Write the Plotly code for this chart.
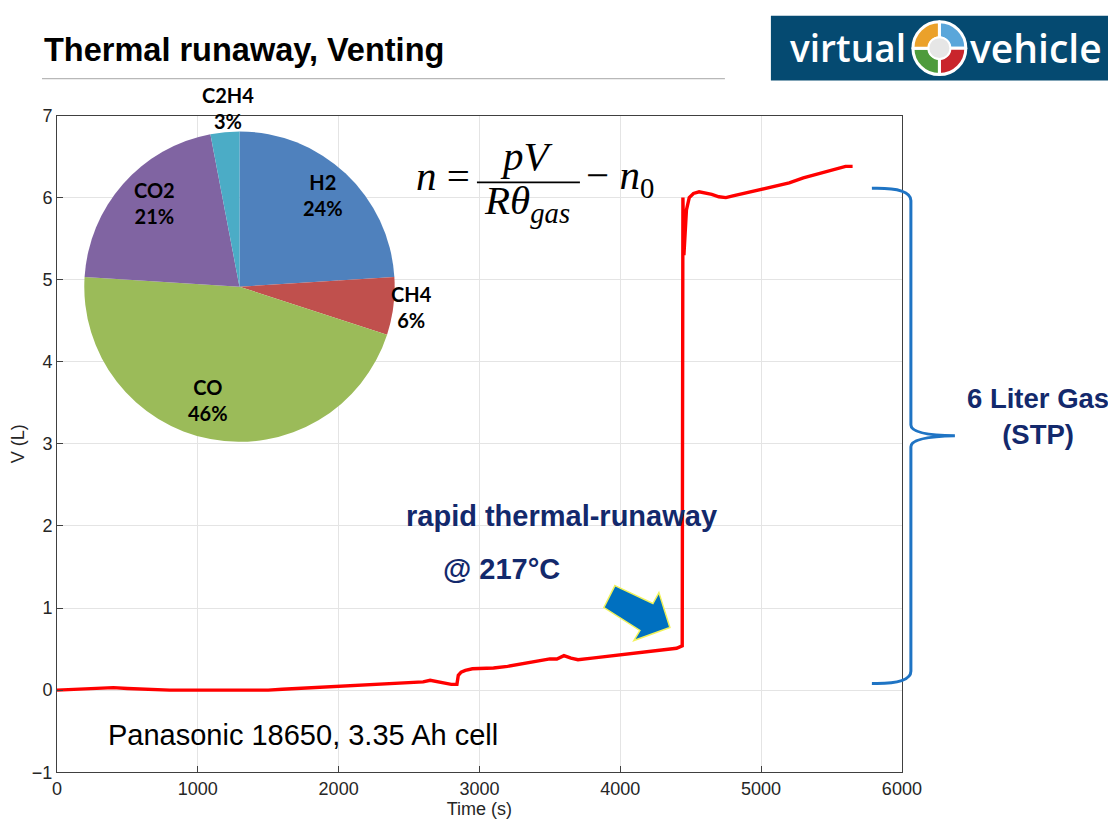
import plotly.graph_objects as go

# The page is photographed with a small offset and scale; map reference pixels into figure pixels.
OX, OY, SC = 13.0, 16.3, 0.978
FW, FH = 1130, 836

# ---------------- data ----------------
time_s = [0, 100, 200, 300, 400, 500, 600, 700, 800, 900, 1000, 1100, 1200, 1300, 1400,
          1500, 1600, 1700, 1800, 1900, 2000, 2100, 2200, 2300, 2400, 2500, 2600, 2650,
          2700, 2750, 2800, 2840, 2850, 2870, 2900, 2950, 3000, 3100, 3200, 3300, 3400,
          3500, 3550, 3600, 3650, 3700, 3800, 3900, 4000, 4100, 4200, 4300, 4400, 4440,
          4445, 4452, 4460, 4470, 4490, 4520, 4560, 4600, 4650, 4700, 4750, 4800, 4850,
          4900, 5000, 5100, 5200, 5300, 5400, 5500, 5600, 5650]
volume_l = [0.00, 0.01, 0.02, 0.03, 0.03, 0.02, 0.01, 0.01, 0.00, 0.00, 0.00, -0.01, -0.01,
            -0.01, 0.00, 0.00, 0.01, 0.02, 0.03, 0.04, 0.05, 0.05, 0.06, 0.07, 0.08, 0.09,
            0.10, 0.12, 0.10, 0.08, 0.07, 0.07, 0.18, 0.22, 0.24, 0.26, 0.26, 0.27, 0.29,
            0.32, 0.35, 0.38, 0.38, 0.42, 0.39, 0.37, 0.39, 0.41, 0.43, 0.44, 0.46, 0.48,
            0.51, 0.54, 6.00, 5.30, 5.60, 5.85, 6.00, 6.05, 6.07, 6.06, 6.04, 6.01, 6.00,
            6.02, 6.04, 6.06, 6.10, 6.14, 6.18, 6.24, 6.29, 6.34, 6.38, 6.38]

gas_names = ["H2", "CH4", "CO", "CO2", "C2H4"]
gas_share = [24, 6, 46, 21, 3]
gas_colors = ["#4F81BD", "#C0504D", "#9BBB59", "#8064A2", "#4BACC6"]

x_ticks = [0, 1000, 2000, 3000, 4000, 5000, 6000]
y_ticks = [-1, 0, 1, 2, 3, 4, 5, 6, 7]


def px(x):
    return ((x - OX) / SC) / FW


def py(y):
    return 1 - ((y - OY) / SC) / FH


fig = go.Figure()

fig.add_trace(go.Scatter(
    x=time_s, y=volume_l, mode="lines",
    line=dict(color="#FF0000", width=3.4),
    showlegend=False, hoverinfo="x+y"))

# gas composition pie
fig.add_trace(go.Pie(
    labels=gas_names, values=gas_share, sort=False, direction="clockwise", rotation=0,
    marker=dict(colors=gas_colors, line=dict(color="white", width=0)),
    textinfo="none", showlegend=False,
    domain=dict(x=[px(84), px(395)], y=[py(441), py(130)])))

# logo ring
fig.add_trace(go.Pie(
    values=[1, 1, 1, 1], sort=False, direction="clockwise", rotation=0,
    marker=dict(colors=["#5AA6DA", "#C9252C", "#4E9B3C", "#EBA12A"],
                line=dict(color="white", width=3)),
    textinfo="none", showlegend=False, hoverinfo="skip", hole=0.38,
    domain=dict(x=[px(913), px(966)], y=[py(73), py(20)])))

axis_font = dict(family="Liberation Sans, Arial", size=18, color="#262626")

fig.update_layout(
    width=FW, height=FH, margin=dict(l=0, r=0, t=0, b=0),
    paper_bgcolor="white", plot_bgcolor="white",
    xaxis=dict(domain=[px(57), px(902)], range=[0, 6000], tickvals=x_ticks,
               ticks="inside", ticklen=6, tickcolor="#404040",
               showline=True, linecolor="#404040", linewidth=1, mirror=True,
               showgrid=True, gridcolor="#E4E4E4", gridwidth=1, zeroline=False,
               tickfont=axis_font,
               title=dict(text="Time (s)", font=axis_font, standoff=4)),
    yaxis=dict(domain=[py(772), py(114)], range=[-1, 7], tickvals=y_ticks,
               ticks="inside", ticklen=6, tickcolor="#404040",
               showline=True, linecolor="#404040", linewidth=1, mirror=True,
               showgrid=True, gridcolor="#E4E4E4", gridwidth=1, zeroline=False,
               tickfont=axis_font,
               title=dict(text="V (L)", font=axis_font, standoff=2)),
)

shapes = []
# title underline
shapes.append(dict(type="line", xref="paper", yref="paper", x0=px(42), x1=px(725), y0=py(77), y1=py(77),
                   line=dict(color="#B8B8B8", width=1.2)))
# logo background
shapes.append(dict(type="rect", xref="paper", yref="paper", x0=px(771), x1=px(1113), y0=py(79), y1=py(14),
                   fillcolor="#054A71", line=dict(width=0), layer="below"))
# logo centre
shapes.append(dict(type="circle", xref="paper", yref="paper", x0=px(928.5), x1=px(950.5), y0=py(57.5), y1=py(35.5),
                   fillcolor="#E6E6E6", line=dict(color="white", width=2), layer="above"))

# formula fraction bar
shapes.append(dict(type="line", xref="paper", yref="paper", x0=px(477), x1=px(580), y0=py(181), y1=py(181),
                   line=dict(color="black", width=1.6)))


def P(a, b):
    return f"{px(a):.5f},{py(b):.5f}"


# blue block arrow
arrow_pts = [(615, 585), (653, 603), (659, 592), (670, 627), (634, 640), (640, 630), (604, 607)]
shapes.append(dict(type="path", xref="paper", yref="paper",
                   path="M " + " L ".join(P(a, b) for a, b in arrow_pts) + " Z",
                   fillcolor="#0070C0", line=dict(color="#F2F25A", width=1.5)))

brace = (f"M {P(872,187)} Q {P(912,186)} {P(911,200)} L {P(911,424)} "
         f"Q {P(911,434)} {P(955,435)} Q {P(911,436)} {P(911,446)} "
         f"L {P(911,670)} Q {P(912,684)} {P(872,683)}")
shapes.append(dict(type="path", xref="paper", yref="paper", path=brace,
                   line=dict(color="#1F74C4", width=3)))

fig.update_layout(shapes=shapes)

ann = []


def text(x, y, t, size, color="black", family="Liberation Sans, Arial", bold=False,
         xanchor="center", weight=None):
    f = dict(family=family, size=size, color=color)
    if weight:
        f["weight"] = weight
    ann.append(dict(xref="paper", yref="paper", x=px(x), y=py(y), text=(f"<b>{t}</b>" if bold else t),
                    showarrow=False, xanchor=xanchor, yanchor="middle", font=f))


text(42, 48, "Thermal runaway, Venting", 32.5, bold=True, xanchor="left")
text(788, 46, "virtual", 37, color="white", family="Open Sans, Liberation Sans", xanchor="left", weight=600)
text(968, 46, "vehicle", 39, color="white", family="Open Sans, Liberation Sans", xanchor="left", weight=600)

# pie labels
pie_label_pos = [(323, 194), (412, 306), (208, 399), (155, 202), (228, 106)]
for (lx, ly), nm, sh in zip(pie_label_pos, gas_names, gas_share):
    text(lx, ly, f"{nm}<br>{sh}%", 20, family="Lato, Open Sans", bold=True)

# formula
serif = "Liberation Serif, Times New Roman"
text(414, 175, "<i>n</i> =", 41, family=serif, xanchor="left")
text(527, 155, "<i>pV</i>", 41, family=serif)
text(527, 202, "<i>Rθ<sub>gas</sub></i>", 41, family=serif)
text(584, 177, "− <i>n</i><sub>0</sub>", 41, family=serif, xanchor="left")

navy = "#13296C"
text(562, 515, "rapid thermal-runaway", 29, color=navy, bold=True)
text(502, 568, "@ 217°C", 29, color=navy, bold=True)
text(1038, 416, "6 Liter Gas<br>(STP)", 27.5, color=navy, bold=True)
text(106, 735, "Panasonic 18650, 3.35 Ah cell", 29, xanchor="left")

fig.update_layout(annotations=ann)

fig.write_html("out.html")
